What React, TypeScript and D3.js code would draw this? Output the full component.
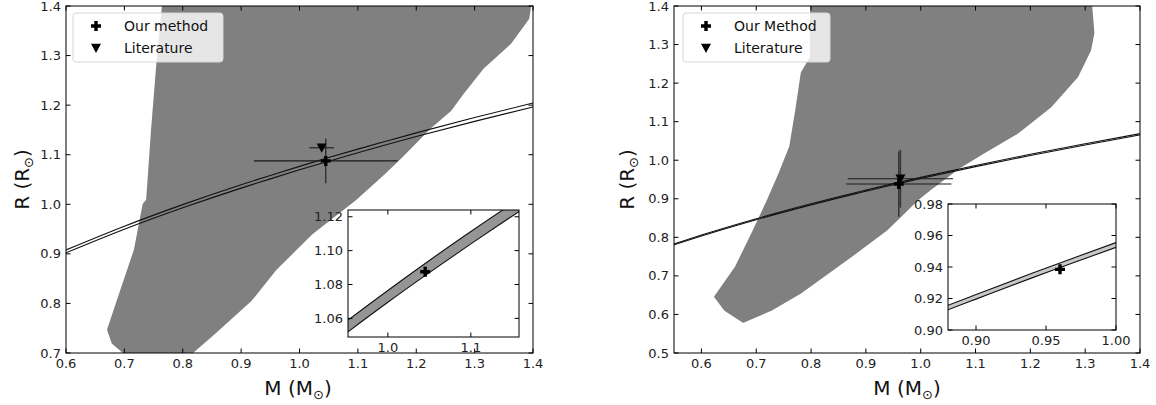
import React from 'react';
import * as d3 from 'd3';

// ---------- DATA ----------
const leftXTicks = [0.6, 0.7, 0.8, 0.9, 1.0, 1.1, 1.2, 1.3, 1.4];
const leftYTicks = [0.7, 0.8, 0.9, 1.0, 1.1, 1.2, 1.3, 1.4];
const rightXTicks = [0.6, 0.7, 0.8, 0.9, 1.0, 1.1, 1.2, 1.3, 1.4];
const rightYTicks = [0.5, 0.6, 0.7, 0.8, 0.9, 1.0, 1.1, 1.2, 1.3, 1.4];
const leftInsetXTicks = [1.0, 1.1];
const leftInsetYTicks = [1.06, 1.08, 1.10, 1.12];
const rightInsetXTicks = [0.90, 0.95, 1.00];
const rightInsetYTicks = [0.90, 0.92, 0.94, 0.96, 0.98];

// scatter cloud outlines (M, R)
const leftCloud: [number, number][] = [
  [0.766, 1.40], [1.395, 1.40], [1.392, 1.375], [1.361, 1.325], [1.315, 1.276],
  [1.280, 1.224], [1.258, 1.189], [1.224, 1.155], [1.173, 1.094], [1.144, 1.061],
  [1.095, 1.009], [1.02, 0.94], [0.96, 0.87], [0.917, 0.807], [0.855, 0.741],
  [0.815, 0.70], [0.70, 0.70], [0.68, 0.72], [0.672, 0.747], [0.689, 0.807],
  [0.718, 0.908], [0.733, 1.0], [0.739, 1.009], [0.747, 1.144], [0.756, 1.277],
];
const rightCloud: [number, number][] = [
  [0.80, 1.40], [1.311, 1.40], [1.315, 1.33], [1.309, 1.286], [1.285, 1.216],
  [1.236, 1.138], [1.176, 1.071], [1.114, 1.019], [1.072, 0.983], [1.023, 0.931],
  [0.993, 0.897], [0.962, 0.853], [0.937, 0.819], [0.871, 0.749], [0.78, 0.656],
  [0.727, 0.612], [0.676, 0.581], [0.643, 0.612], [0.625, 0.646], [0.663, 0.723],
  [0.696, 0.819], [0.7215, 0.897], [0.743, 0.967], [0.762, 1.035], [0.773, 1.130],
  [0.783, 1.226], [0.80, 1.268],
];

// constant-density lines
const leftLineM = [0.6, 0.7, 0.8, 0.9, 0.95, 1.0, 1.05, 1.1, 1.15, 1.2, 1.3, 1.4];
const leftLineRA = [0.9020, 0.9496, 0.9928, 1.0326, 1.0513, 1.0695, 1.0870, 1.1040, 1.1205, 1.1366, 1.1672, 1.1964];
const leftLineRB = [0.9079, 0.9558, 0.9993, 1.0394, 1.0582, 1.0765, 1.0942, 1.1113, 1.1278, 1.1440, 1.1749, 1.2043];
const rightLineM = [0.55, 0.6, 0.7, 0.8, 0.88, 0.9, 0.94, 0.96, 1.0, 1.1, 1.2, 1.3, 1.4];
const rightLineRA = [0.7804, 0.8033, 0.8457, 0.8842, 0.9128, 0.9196, 0.9331, 0.9396, 0.9525, 0.9833, 1.0122, 1.0396, 1.0656];
const rightLineRB = [0.7829, 0.8059, 0.8484, 0.8870, 0.9157, 0.9225, 0.9360, 0.9426, 0.9555, 0.9864, 1.0154, 1.0428, 1.0689];

// measurements [M, Merr, R, Rerr]
const leftOurMethod = [1.045, 0.123, 1.0875, 0.045];
const leftLiterature = [1.038, 0.021, 1.114, 0.004];
const rightOurMethod = [0.960, 0.096, 0.9385, 0.085];
const rightLiterature = [0.963, 0.096, 0.952, 0.075];

const leftLegend = ['Our method', 'Literature'];
const rightLegend = ['Our Method', 'Literature'];

// ---------- DRAWING ----------
const FONT = 'DejaVu Sans, Liberation Sans, sans-serif';
const GRAY = '#808080';

const plusPath = (s: number) => {
  const a = s / 2, t = s * 0.17;
  return `M${-t},${-a}H${t}V${-t}H${a}V${t}H${t}V${a}H${-t}V${t}H${-a}V${-t}H${-t}Z`;
};
const triPath = (s: number) => `M${-s / 2},${-s * 0.42}L${s / 2},${-s * 0.42}L0,${s * 0.5}Z`;

type Box = { x0: number; x1: number; y0: number; y1: number };

interface InsetCfg {
  box: Box; xd: [number, number]; yd: [number, number];
  xt: number[]; yt: number[]; xf: string; yf: string; bandFill: string; bandOpacity: number;
}

interface PanelCfg {
  id: string; box: Box; xd: [number, number]; yd: [number, number];
  xt: number[]; yt: number[]; cloud: [number, number][];
  lineM: number[]; lineA: number[]; lineB: number[];
  our: number[]; lit: number[]; legend: string[]; legendBox: Box;
  inset: InsetCfg; xlabelX: number; ylabelX: number; errW: number; errC: string;
}

function Ticks({ box, xs, ys, xt, yt, xf, yf, fs }: any) {
  const L = 4.5;
  return (
    <g>
      {xt.map((t: number, i: number) => (
        <g key={'x' + i}>
          <line x1={xs(t)} x2={xs(t)} y1={box.y1} y2={box.y1 - L} stroke="#000" strokeWidth={1} />
          <line x1={xs(t)} x2={xs(t)} y1={box.y0} y2={box.y0 + L} stroke="#000" strokeWidth={1} />
          <text x={xs(t)} y={box.y1 + 5} dy="0.8em" textAnchor="middle" fontSize={fs} fontFamily={FONT} fill="#222">{d3.format(xf)(t)}</text>
        </g>
      ))}
      {yt.map((t: number, i: number) => (
        <g key={'y' + i}>
          <line x1={box.x0} x2={box.x0 + L} y1={ys(t)} y2={ys(t)} stroke="#000" strokeWidth={1} />
          <line x1={box.x1} x2={box.x1 - L} y1={ys(t)} y2={ys(t)} stroke="#000" strokeWidth={1} />
          <text x={box.x0 - 5} y={ys(t)} dy="0.35em" textAnchor="end" fontSize={fs} fontFamily={FONT} fill="#222">{d3.format(yf)(t)}</text>
        </g>
      ))}
      <rect x={box.x0} y={box.y0} width={box.x1 - box.x0} height={box.y1 - box.y0} fill="none" stroke="#000" strokeWidth={1} />
    </g>
  );
}

function Panel({ c }: { c: PanelCfg }) {
  const { box } = c;
  const xs = d3.scaleLinear().domain(c.xd).range([box.x0, box.x1]);
  const ys = d3.scaleLinear().domain(c.yd).range([box.y1, box.y0]);
  const cloudPath = d3.line<[number, number]>().x(d => xs(d[0])).y(d => ys(d[1])).curve(d3.curveLinearClosed)(c.cloud) || '';
  const mkLine = (sx: any, sy: any, rs: number[]) =>
    d3.line<number>().x((_, i) => sx(c.lineM[i])).y(d => sy(d)).curve(d3.curveMonotoneX)(rs) || '';

  const ib = c.inset.box;
  const ixs = d3.scaleLinear().domain(c.inset.xd).range([ib.x0, ib.x1]);
  const iys = d3.scaleLinear().domain(c.inset.yd).range([ib.y1, ib.y0]);
  const band = d3.area<number>().x((_, i) => ixs(c.lineM[i])).y0((d) => iys(d)).y1((_, i) => iys(c.lineB[i])).curve(d3.curveMonotoneX)(c.lineA) || '';

  const errBar = (p: number[], key: string) => (
    <g key={key}>
      <line x1={xs(p[0] - p[1])} x2={xs(p[0] + p[1])} y1={ys(p[2])} y2={ys(p[2])} stroke="#1a1a1a" strokeWidth={1.1} />
      <line x1={xs(p[0])} x2={xs(p[0])} y1={ys(p[2] - p[3])} y2={ys(p[2] + p[3])} stroke={c.errC} strokeWidth={c.errW} />
    </g>
  );
  const lb = c.legendBox;
  const cy = (box.y0 + box.y1) / 2;
  return (
    <g>
      <defs>
        <clipPath id={c.id + 'clip'}><rect x={box.x0} y={box.y0} width={box.x1 - box.x0} height={box.y1 - box.y0} /></clipPath>
        <clipPath id={c.id + 'iclip'}><rect x={ib.x0} y={ib.y0} width={ib.x1 - ib.x0} height={ib.y1 - ib.y0} /></clipPath>
      </defs>
      <g clipPath={`url(#${c.id}clip)`}>
        <path d={cloudPath} fill={GRAY} stroke={GRAY} strokeWidth={2} strokeLinejoin="round" />
        <path d={mkLine(xs, ys, c.lineA)} fill="none" stroke="#111" strokeWidth={1.1} />
        <path d={mkLine(xs, ys, c.lineB)} fill="none" stroke="#111" strokeWidth={1.1} />
        {errBar(c.lit, 'el')}
        {errBar(c.our, 'eo')}
        <path d={triPath(10)} transform={`translate(${xs(c.lit[0])},${ys(c.lit[2])})`} fill="#000" />
        <path d={plusPath(10)} transform={`translate(${xs(c.our[0])},${ys(c.our[2])})`} fill="#000" />
      </g>
      {/* legend */}
      <rect x={lb.x0} y={lb.y0} width={lb.x1 - lb.x0} height={lb.y1 - lb.y0} rx={3} fill="#fff" fillOpacity={0.8} stroke="#d6d6d6" strokeWidth={1} />
      <path d={plusPath(10)} transform={`translate(${lb.x0 + 23},${lb.y0 + 13})`} fill="#000" />
      <path d={triPath(10)} transform={`translate(${lb.x0 + 23},${lb.y0 + 35})`} fill="#000" />
      <text x={lb.x0 + 51} y={lb.y0 + 13} dy="0.36em" fontSize={14} fontFamily={FONT} fill="#111">{c.legend[0]}</text>
      <text x={lb.x0 + 51} y={lb.y0 + 35} dy="0.36em" fontSize={14} fontFamily={FONT} fill="#111">{c.legend[1]}</text>
      <Ticks box={box} xs={xs} ys={ys} xt={c.xt} yt={c.yt} xf=".1f" yf=".1f" fs={13} />
      {/* inset */}
      <rect x={ib.x0} y={ib.y0} width={ib.x1 - ib.x0} height={ib.y1 - ib.y0} fill="#fff" />
      <g clipPath={`url(#${c.id}iclip)`}>
        <path d={band} fill={c.inset.bandFill} fillOpacity={c.inset.bandOpacity} />
        <path d={mkLine(ixs, iys, c.lineA)} fill="none" stroke="#111" strokeWidth={1.1} />
        <path d={mkLine(ixs, iys, c.lineB)} fill="none" stroke="#111" strokeWidth={1.1} />
        <path d={plusPath(10)} transform={`translate(${ixs(c.our[0])},${iys(c.our[2])})`} fill="#000" />
      </g>
      <Ticks box={ib} xs={ixs} ys={iys} xt={c.inset.xt} yt={c.inset.yt} xf={c.inset.xf} yf={c.inset.yf} fs={13} />
      {/* axis labels */}
      <text x={c.xlabelX} y={395} textAnchor="middle" fontSize={20} fontFamily={FONT} fill="#111">
        M (M<tspan fontSize={13} dy={4}>⊙</tspan><tspan dy={-4}>)</tspan>
      </text>
      <text transform={`translate(${c.ylabelX},${cy}) rotate(-90)`} textAnchor="middle" fontSize={20} fontFamily={FONT} fill="#111">
        R (R<tspan fontSize={13} dy={4}>⊙</tspan><tspan dy={-4}>)</tspan>
      </text>
    </g>
  );
}

const leftCfg: PanelCfg = {
  id: 'L', box: { x0: 66, x1: 533, y0: 6, y1: 353 }, xd: [0.6, 1.4], yd: [0.7, 1.4],
  xt: leftXTicks, yt: leftYTicks, cloud: leftCloud,
  lineM: leftLineM, lineA: leftLineRA, lineB: leftLineRB,
  our: leftOurMethod, lit: leftLiterature, legend: leftLegend,
  legendBox: { x0: 73, x1: 223, y0: 13, y1: 62 },
  inset: { box: { x0: 348, x1: 519, y0: 210, y1: 337 }, xd: [0.952, 1.158], yd: [1.049, 1.124],
    xt: leftInsetXTicks, yt: leftInsetYTicks, xf: '.1f', yf: '.2f', bandFill: '#8a8a8a', bandOpacity: 0.9 },
  xlabelX: 298, ylabelX: 29, errW: 1.1, errC: '#1a1a1a',
};
const rightCfg: PanelCfg = {
  id: 'R', box: { x0: 674, x1: 1140, y0: 6, y1: 353 }, xd: [0.55, 1.4], yd: [0.5, 1.4],
  xt: rightXTicks, yt: rightYTicks, cloud: rightCloud,
  lineM: rightLineM, lineA: rightLineRA, lineB: rightLineRB,
  our: rightOurMethod, lit: rightLiterature, legend: rightLegend,
  legendBox: { x0: 683, x1: 830, y0: 13, y1: 62 },
  inset: { box: { x0: 948, x1: 1116, y0: 204, y1: 330 }, xd: [0.88, 1.0], yd: [0.90, 0.98],
    xt: rightInsetXTicks, yt: rightInsetYTicks, xf: '.2f', yf: '.2f', bandFill: '#b0b0b0', bandOpacity: 0.7 },
  xlabelX: 907, ylabelX: 634, errW: 1.5, errC: '#333',
};

export default function App() {
  return (
    <svg width={1156} height={405} style={{ position: 'absolute', left: 0, top: 0, background: '#fff' }}>
      <rect width={1156} height={405} fill="#fff" />
      <Panel c={leftCfg} />
      <Panel c={rightCfg} />
    </svg>
  );
}
